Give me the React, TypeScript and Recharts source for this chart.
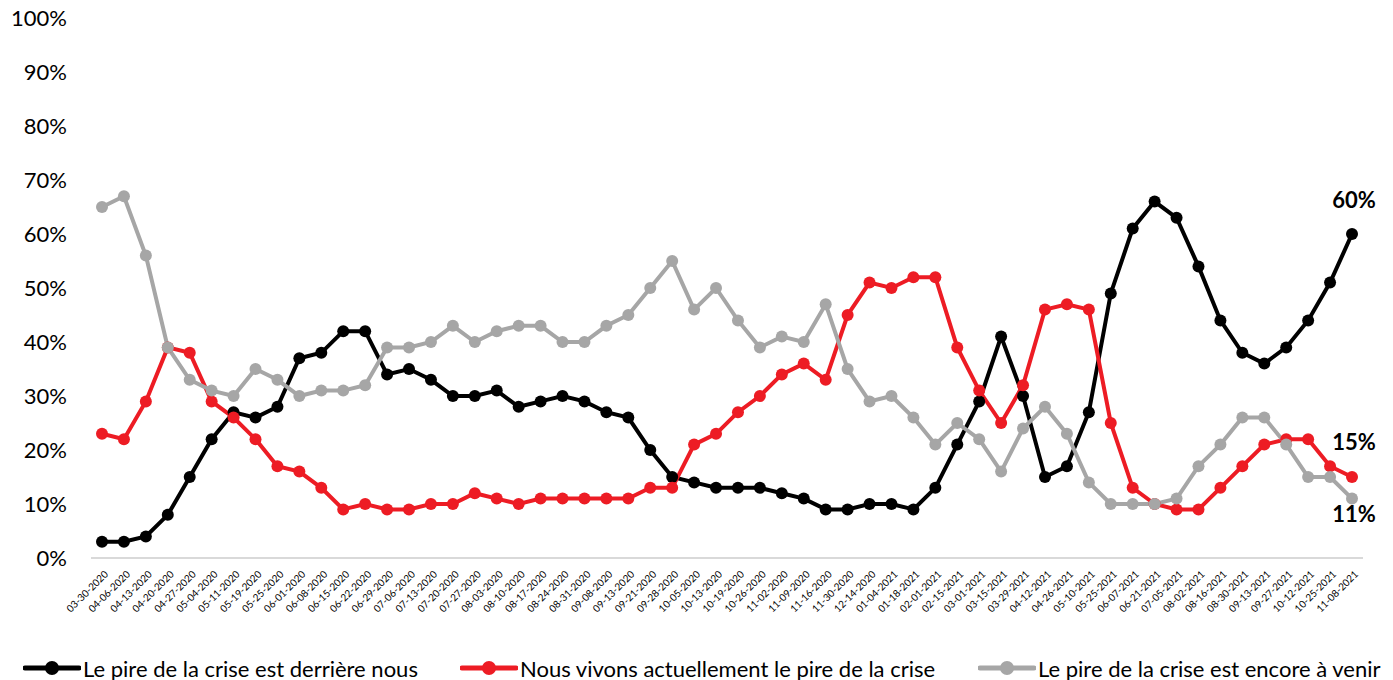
import React from 'react';
import { LineChart, Line, XAxis, YAxis, LabelList, Legend } from 'recharts';

const dates = [
  '03-30-2020', '04-06-2020', '04-13-2020', '04-20-2020', '04-27-2020', '05-04-2020', '05-11-2020', '05-19-2020',
  '05-25-2020', '06-01-2020', '06-08-2020', '06-15-2020', '06-22-2020', '06-29-2020', '07-06-2020', '07-13-2020',
  '07-20-2020', '07-27-2020', '08-03-2020', '08-10-2020', '08-17-2020', '08-24-2020', '08-31-2020', '09-08-2020',
  '09-13-2020', '09-21-2020', '09-28-2020', '10-05-2020', '10-13-2020', '10-19-2020', '10-26-2020', '11-02-2020',
  '11-09-2020', '11-16-2020', '11-30-2020', '12-14-2020', '01-04-2021', '01-18-2021', '02-01-2021', '02-15-2021',
  '03-01-2021', '03-15-2021', '03-29-2021', '04-12-2021', '04-26-2021', '05-10-2021', '05-25-2021', '06-07-2021',
  '06-21-2021', '07-05-2021', '08-02-2021', '08-16-2021', '08-30-2021', '09-13-2021', '09-27-2021', '10-12-2021',
  '10-25-2021', '11-08-2021',
];

// Le pire de la crise est derrière nous
const behind = [
  3, 3, 4, 8, 15, 22, 27, 26, 28, 37, 38, 42, 42, 34, 35, 33, 30, 30, 31, 28, 29, 30, 29, 27, 26, 20, 15, 14, 13,
  13, 13, 12, 11, 9, 9, 10, 10, 9, 13, 21, 29, 41, 30, 15, 17, 27, 49, 61, 66, 63, 54, 44, 38, 36, 39, 44, 51, 60,
];

// Nous vivons actuellement le pire de la crise
const now = [
  23, 22, 29, 39, 38, 29, 26, 22, 17, 16, 13, 9, 10, 9, 9, 10, 10, 12, 11, 10, 11, 11, 11, 11, 11, 13, 13, 21, 23,
  27, 30, 34, 36, 33, 45, 51, 50, 52, 52, 39, 31, 25, 32, 46, 47, 46, 25, 13, 10, 9, 9, 13, 17, 21, 22, 22, 17, 15,
];

// Le pire de la crise est encore à venir
const ahead = [
  65, 67, 56, 39, 33, 31, 30, 35, 33, 30, 31, 31, 32, 39, 39, 40, 43, 40, 42, 43, 43, 40, 40, 43, 45, 50, 55, 46, 50,
  44, 39, 41, 40, 47, 35, 29, 30, 26, 21, 25, 22, 16, 24, 28, 23, 14, 10, 10, 10, 11, 17, 21, 26, 26, 21, 15, 15, 11,
];

const yTicks = [0, 10, 20, 30, 40, 50, 60, 70, 80, 90, 100];

const data = dates.map((d, i) => ({ date: d, behind: behind[i], now: now[i], ahead: ahead[i] }));

const FONT = 'Lato, "Open Sans", sans-serif';

const series = [
  { key: 'behind', name: 'Le pire de la crise est derrière nous', color: '#000000', labelDy: -35, legendX: 23 },
  { key: 'now', name: 'Nous vivons actuellement le pire de la crise', color: '#ED1C24', labelDy: -36, legendX: 460 },
  { key: 'ahead', name: 'Le pire de la crise est encore à venir', color: '#A6A6A6', labelDy: 15, legendX: 978 },
];

const DateTick = (props: any) => {
  const { x, y, payload } = props;
  return (
    <text
      x={x + 4}
      y={y + 6}
      transform={`rotate(-45, ${x + 4}, ${y + 6})`}
      textAnchor="end"
      dominantBaseline="central"
      fontSize={10}
      fontFamily={FONT}
      fill="#000"
    >
      {payload.value}
    </text>
  );
};

const endLabel = (dy: number) => (props: any) => {
  const { x, y, value, index } = props;
  if (index !== dates.length - 1) return null;
  return (
    <text x={x + 2} y={y + dy} textAnchor="middle" dominantBaseline="central" fontSize={22} fontWeight={700} fontFamily={FONT} fill="#000">
      {value}%
    </text>
  );
};

const LegendContent = () => (
  <div style={{ position: 'relative', height: 40, fontFamily: FONT, fontSize: 22, color: '#000' }}>
    {series.map((s) => (
      <div key={s.key} style={{ position: 'absolute', left: s.legendX, top: 0, height: 40, display: 'flex', alignItems: 'center', whiteSpace: 'nowrap' }}>
        <svg width={58} height={16} style={{ marginRight: 2 }}>
          <line x1={2} y1={8} x2={56} y2={8} stroke={s.color} strokeWidth={5} strokeLinecap="round" />
          <circle cx={29} cy={8} r={7} fill={s.color} />
        </svg>
        <span>{s.name}</span>
      </div>
    ))}
  </div>
);

export default function App() {
  return (
    <div style={{ position: 'absolute', left: 0, top: 0, width: 1393, height: 680, background: '#fff' }}>
      <LineChart width={1393} height={680} data={data} margin={{ top: 18, right: 30, left: 0, bottom: 0 }}>
        <XAxis
          dataKey="date"
          interval={0}
          tick={<DateTick />}
          tickLine={false}
          axisLine={{ stroke: '#D9D9D9', strokeWidth: 2 }}
          padding={{ left: 11, right: 11 }}
          height={82}
        />
        <YAxis
          domain={[0, 100]}
          ticks={yTicks}
          tickFormatter={(v: number) => `${v}%`}
          axisLine={false}
          tickLine={false}
          tickSize={6}
          tickMargin={18}
          width={91}
          tick={{ fontSize: 22, fill: '#000', fontFamily: FONT }}
        />
        <Legend verticalAlign="bottom" align="left" content={<LegendContent />} wrapperStyle={{ left: 0, bottom: -8, width: 1393, height: 40 }} />
        {series.map((s) => (
          <Line
            key={s.key}
            type="linear"
            dataKey={s.key}
            name={s.name}
            stroke={s.color}
            strokeWidth={4}
            dot={{ r: 6, fill: s.color, stroke: s.color, strokeWidth: 0 }}
            activeDot={false}
            isAnimationActive={false}
          >
            <LabelList dataKey={s.key} content={endLabel(s.labelDy)} />
          </Line>
        ))}
      </LineChart>
    </div>
  );
}
